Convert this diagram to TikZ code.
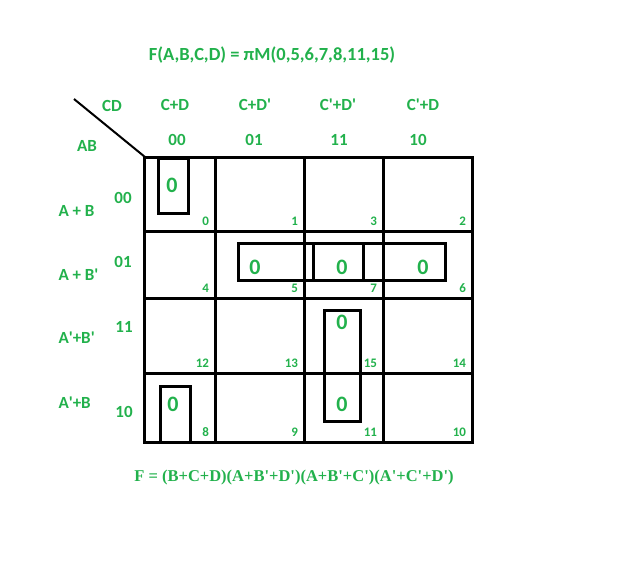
\documentclass[tikz,border=0pt]{standalone}
\usepackage{fontspec}
\setmainfont{Carlito}
\newfontfamily\serifbold{Liberation Serif}
\definecolor{kgreen}{RGB}{34,177,76}
\newcommand{\tk}{\textquotesingle}

\begin{document}
\begin{tikzpicture}[x=1pt, y=-1pt, line width=3pt,
	lbl/.style={text=kgreen, font=\bfseries\fontsize{17}{19}\selectfont, inner sep=0pt},
	num/.style={text=kgreen, font=\bfseries\fontsize{13}{15}\selectfont, inner sep=0pt, anchor=base east},
	zero/.style={text=kgreen, font=\bfseries\fontsize{22}{24}\selectfont, inner sep=0pt}]
	\useasboundingbox (0, 0) rectangle (629, 574);
	
	\draw (144, 157) rectangle (472, 442); % Рамка карты
	\draw (215, 157) -- (215, 442);
	\draw (304, 157) -- (304, 442);
	\draw (383, 157) -- (383, 442);
	\draw (144, 231) -- (472, 231);
	\draw (144, 298) -- (472, 298);
	\draw (144, 373) -- (472, 373);
	
	\coordinate (dA) at (74, 99);
	\coordinate (dB) at (145, 157);
	\draw[line width=2pt] (dA) -- (dB); % Диагональ
	
	% Группы нулей
	\draw (158, 158) rectangle (188, 213);
	\draw (238, 243) rectangle (363, 280);
	\draw (313, 243) rectangle (445, 280);
	\draw (324, 310) rectangle (360, 421);
	\draw (160, 386) rectangle (190, 442);
	
	\node[lbl, font=\bfseries\fontsize{18.5}{20}\selectfont] (title) at (272, 55) {F(A,B,C,D) = πM(0,5,6,7,8,11,15)};
	
	\node[lbl] (cd) at (112, 106) {CD};
	\node[lbl] (ab) at (87, 146) {AB};
	
	\node[lbl] (hc0) at (175, 105) {C+D};
	\node[lbl] (hc1) at (255, 105) {C+D\tk};
	\node[lbl] (hc3) at (338, 105) {C\tk+D\tk};
	\node[lbl] (hc2) at (423, 105) {C\tk+D};
	
	\node[lbl] (c00) at (177, 140) {00};
	\node[lbl] (c01) at (254, 140) {01};
	\node[lbl] (c11) at (339, 140) {11};
	\node[lbl] (c10) at (418, 140) {10};
	
	\node[lbl] (r00) at (123, 198) {00};
	\node[lbl] (r01) at (123, 262) {01};
	\node[lbl] (r11) at (124, 327) {11};
	\node[lbl] (r10) at (124, 412) {10};
	
	\node[lbl, anchor=west] (hr0) at (57, 211) {A + B};
	\node[lbl, anchor=west] (hr1) at (57, 275) {A + B\tk};
	\node[lbl, anchor=west] (hr3) at (57, 338) {A\tk+B\tk};
	\node[lbl, anchor=west] (hr2) at (57, 403) {A\tk+B};
	
	% Номера клеток
	\node[num] (m0) at (210.5, 225.5) {0};
	\node[num] (m1) at (299.5, 225.5) {1};
	\node[num] (m3) at (378.5, 225.5) {3};
	\node[num] (m2) at (467.5, 225.5) {2};
	\node[num] (m4) at (210.5, 292.5) {4};
	\node[num] (m5) at (299.5, 292.5) {5};
	\node[num] (m7) at (378.5, 292.5) {7};
	\node[num] (m6) at (467.5, 292.5) {6};
	\node[num] (m12) at (210.5, 367.5) {12};
	\node[num] (m13) at (299.5, 367.5) {13};
	\node[num] (m15) at (378.5, 367.5) {15};
	\node[num] (m14) at (467.5, 367.5) {14};
	\node[num] (m8) at (210.5, 436.5) {8};
	\node[num] (m9) at (299.5, 436.5) {9};
	\node[num] (m11) at (378.5, 436.5) {11};
	\node[num] (m10) at (467.5, 436.5) {10};
	
	% Нули
	\node[zero] (z0) at (172, 185) {0};
	\node[zero] (z5) at (255, 267) {0};
	\node[zero] (z7) at (342, 267) {0};
	\node[zero] (z6) at (423, 267) {0};
	\node[zero] (z15) at (342, 322) {0};
	\node[zero] (z8) at (173, 404) {0};
	\node[zero] (z11) at (342, 404) {0};
	
	\node[text=kgreen, inner sep=0pt, font=\serifbold\bfseries\fontsize{16.5}{18}\selectfont] (res) at (294, 478)
		{F = (B+C+D)(A+B\tk+D\tk)(A+B\tk+C\tk)(A\tk+C\tk+D\tk)};
\end{tikzpicture}
\end{document}
